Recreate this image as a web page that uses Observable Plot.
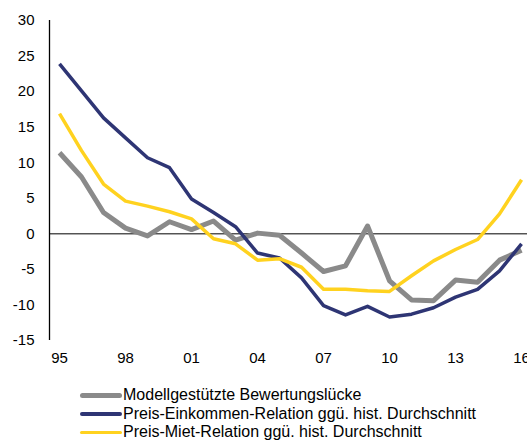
<!DOCTYPE html>
<html>
<head>
<meta charset="utf-8">
<script src="https://cdn.jsdelivr.net/npm/d3@7"></script>
<script src="https://cdn.jsdelivr.net/npm/@observablehq/plot@0.6"></script>
<style>
  body { margin: 0; background: #fff; font-family: "Liberation Sans", Arial, sans-serif; }
  #legend { padding-top: 14px; font-size: 16px; color: #000; }
  .row { display: flex; align-items: center; height: 18.5px; white-space: nowrap; }
  .sw { margin-left: 80px; width: 42px; border-radius: 3px; margin-right: 1px; flex: none; }
</style>
</head>
<body>
<div id="chart"></div>
<div id="legend"></div>
<script>
const years = [1995,1996,1997,1998,1999,2000,2001,2002,2003,2004,2005,2006,2007,2008,2009,2010,2011,2012,2013,2014,2015,2016];
const modell = [11.4,8.0,3.0,0.8,-0.3,1.7,0.6,1.8,-0.9,0.1,-0.2,-2.7,-5.3,-4.5,1.1,-6.6,-9.3,-9.4,-6.5,-6.8,-3.7,-2.3];
const einkommen = [23.9,20.1,16.3,13.5,10.7,9.3,4.9,3.0,1.0,-2.7,-3.4,-6.2,-10.1,-11.4,-10.2,-11.7,-11.3,-10.4,-8.9,-7.8,-5.2,-1.4];
const miet = [16.9,11.7,7.0,4.6,3.9,3.1,2.1,-0.7,-1.4,-3.7,-3.5,-4.7,-7.8,-7.8,-8.0,-8.1,-5.9,-3.8,-2.2,-0.8,2.8,7.6];
const seriesNames = ["Modellgestützte Bewertungslücke","Preis-Einkommen-Relation ggü. hist. Durchschnitt","Preis-Miet-Relation ggü. hist. Durchschnitt"];
const seriesColors = ["#8a8a8a","#2e3574","#ffd21f"];
const seriesWidths = [5,3.5,3.5];
const xTicks = [1995,1998,2001,2004,2007,2010,2013,2016];
const yTicks = [-15,-10,-5,0,5,10,15,20,25,30];

const allSeries = [modell, einkommen, miet];
const data = [];
allSeries.forEach((vals, i) => vals.forEach((v, j) => data.push({year: years[j], value: v, series: seriesNames[i]})));

const xDomain = [1994.545, 2016.27];

const marks = [
  Plot.ruleY([0], {stroke: "#000", strokeWidth: 1}),
  Plot.ruleX([xDomain[0]], {y1: -15, y2: 30, stroke: "#000", strokeWidth: 1.3}),
  Plot.axisY({ticks: yTicks, tickSize: 0, tickPadding: 15, fontSize: 15, label: null, tickFormat: d => String(d)}),
  Plot.axisX({ticks: xTicks, tickSize: 0, tickPadding: 12, fontSize: 15, label: null, tickFormat: d => String(d % 100).padStart(2, "0")})
];
seriesNames.forEach((name, i) => {
  marks.push(Plot.line(data.filter(d => d.series === name), {
    x: "year", y: "value", stroke: seriesColors[i], strokeWidth: seriesWidths[i],
    strokeLinejoin: "round", strokeLinecap: "butt"
  }));
});

const chart = Plot.plot({
  width: 527,
  height: 372,
  marginLeft: 49,
  marginRight: 0,
  marginTop: 20,
  marginBottom: 32,
  style: {fontFamily: "Liberation Sans, Arial, sans-serif", fontSize: "15px", color: "#000", background: "#fff"},
  x: {domain: xDomain, axis: null},
  y: {domain: [-15, 30], axis: null},
  marks
});
document.getElementById("chart").appendChild(chart);

const legend = document.getElementById("legend");
seriesNames.forEach((name, i) => {
  const row = document.createElement("div");
  row.className = "row";
  const sw = document.createElement("span");
  sw.className = "sw";
  sw.style.height = seriesWidths[i] + "px";
  sw.style.background = seriesColors[i];
  const t = document.createElement("span");
  t.textContent = name;
  row.appendChild(sw);
  row.appendChild(t);
  legend.appendChild(row);
});
</script>
</body>
</html>
